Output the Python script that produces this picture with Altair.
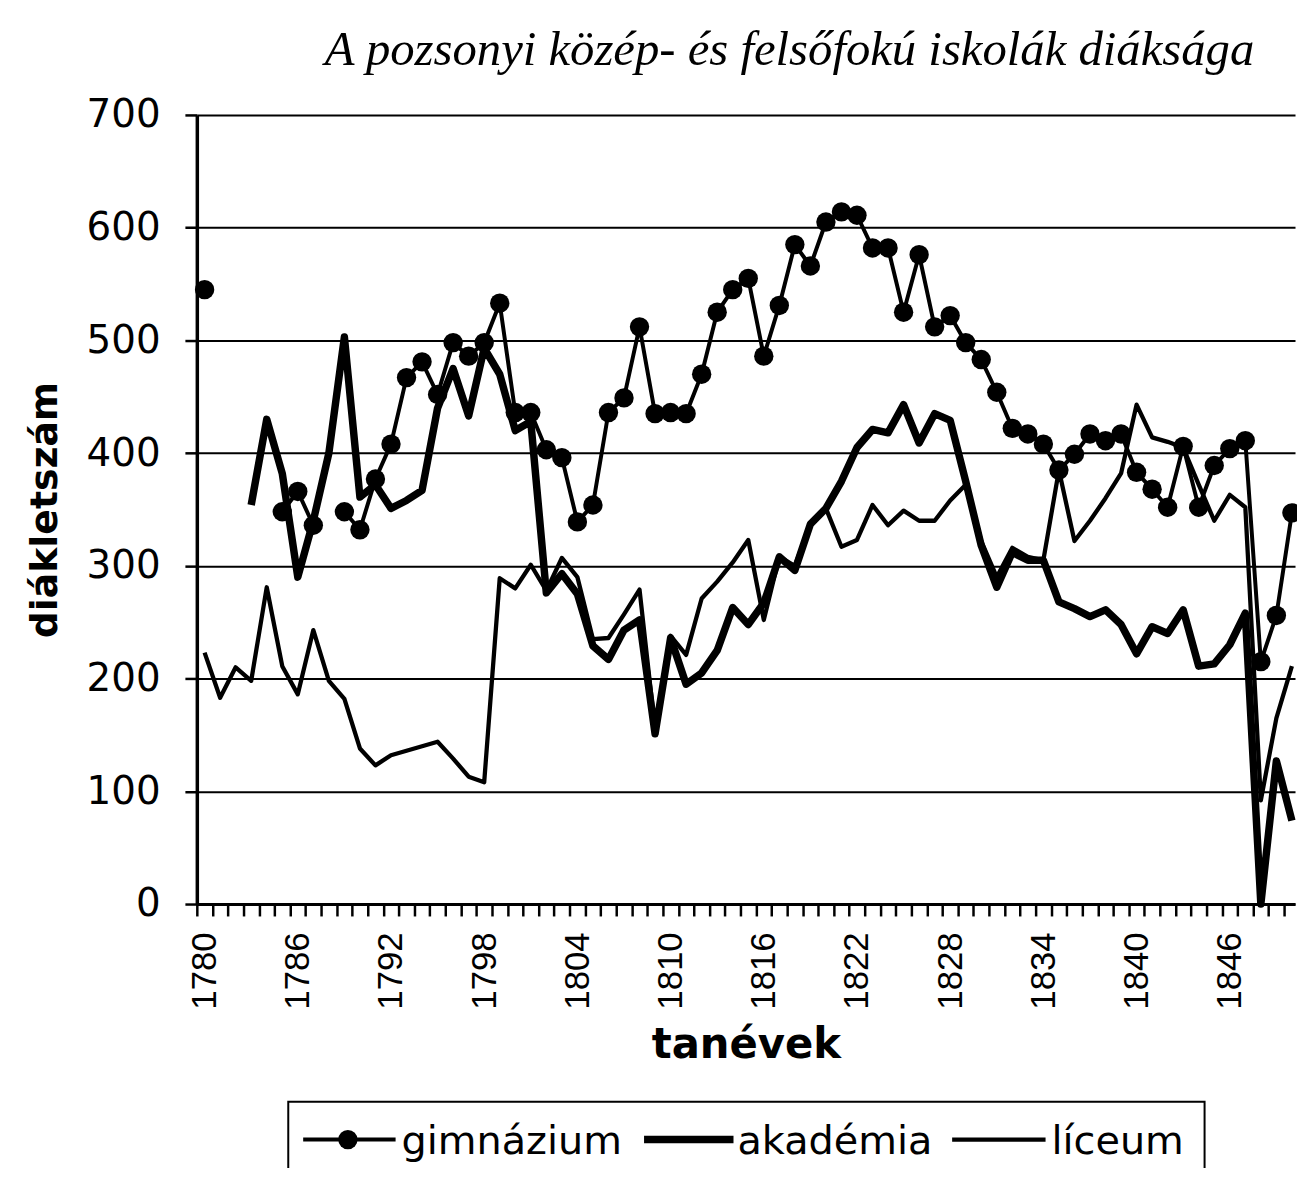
import altair as alt
import pandas as pd

TITLE = "A pozsonyi közép- és felsőfokú iskolák diáksága"
years = list(range(1780, 1851))

gimnazium = [545, None, None, None, None, 348, 366, 336, None, 348,
             332, 377, 408, 467, 481, 452, 498, 486, 498, 533,
             436, 436, 403, 396, 339, 354, 436, 449, 512, 435,
             436, 435, 470, 525, 545, 555, 486, 531, 585, 566,
             605, 614, 611, 582, 582, 525, 576, 512, 522, 498,
             483, 454, 422, 417, 408, 385, 399, 417, 411, 417,
             383, 368, 352, 406, 352, 389, 404, 411, 215, 256,
             347]

akademia = [None, None, None, 354, 430, 382, 290, 340, 400, 503,
            361, 372, 351, 358, 367, 440, 475, 433, 493, 470,
            420, 428, 276, 293, 275, 229, 217, 243, 252, 151,
            236, 195, 205, 225, 263, 248, 267, 308, 296, 337,
            351, 375, 405, 421, 418, 443, 409, 435, 429, 375,
            318, 281, 312, 305, 305, 268, 262, 255, 261, 248,
            222, 246, 240, 261, 211, 213, 230, 258, 0, 127,
            74]

liceum = [223, 183, 210, 198, 281, 211, 186, 243, 198, 182,
          138, 123, 132, 136, 140, 144, 129, 113, 108, 289,
          280, 301, 278, 307, 290, 235, 236, 257, 279, 155,
          238, 221, 271, 286, 303, 323, 252, 308, 300, 337,
          351, 317, 323, 354, 336, 349, 340, 340, 358, 372,
          322, 290, 316, 308, 305, 385, 322, 340, 360, 382,
          443, 414, 410, 405, 372, 340, 363, 352, 92, 165,
          211]

series = {"gimnázium": gimnazium, "akadémia": akademia, "líceum": liceum}

rows = []
for name, vals in series.items():
    seg = 0
    prev_none = True
    for yr, v in zip(years, vals):
        if v is None:
            prev_none = True
            continue
        if prev_none:
            seg += 1
            prev_none = False
        rows.append({"series": name, "year": yr, "value": v, "seg": f"{name}{seg}"})
df = pd.DataFrame(rows)

tick_values = [y - 0.5 for y in years]

x_enc = alt.X(
    "year:Q",
    scale=alt.Scale(domain=[1779.5, 1850.2], nice=False, zero=False),
    axis=alt.Axis(
        values=tick_values,
        labelExpr="((datum.value + 0.5 - 1780) % 6 == 0) ? format(datum.value + 0.5, 'd') : ''",
        labelAngle=270, labelFont="Liberation Sans", labelFontSize=35,
        labelColor="black", labelPadding=16, labelOffset=7.8,
        labelFlush=False, labelOverlap=False,
        tickSize=12, tickWidth=2.5, tickColor="black",
        domainColor="black", domainWidth=3, grid=False,
        title="tanévek", titleFont="DejaVu Sans", titleFontSize=42,
        titleFontWeight="bold", titleColor="black", titlePadding=16,
    ),
)
y_enc = alt.Y(
    "value:Q",
    scale=alt.Scale(domain=[0, 700], nice=False),
    axis=alt.Axis(
        values=list(range(0, 701, 100)), format="d",
        labelFont="DejaVu Sans", labelFontSize=39, labelColor="black",
        labelPadding=25, tickSize=12, tickWidth=2.5, tickColor="black",
        domainColor="black", domainWidth=3.5,
        grid=True, gridColor="black", gridWidth=2, gridOpacity=1,
        title="diákletszám", titleFont="DejaVu Sans", titleFontSize=38,
        titleFontWeight="bold", titleColor="black", titlePadding=22,
    ),
)

base = alt.Chart(df).encode(x=x_enc, y=y_enc)

lic = base.transform_filter(alt.datum.series == "líceum").mark_line(
    color="black", strokeWidth=4.3, strokeJoin="round").encode(detail="seg:N")
aka = base.transform_filter(alt.datum.series == "akadémia").mark_line(
    color="black", strokeWidth=7.5, strokeJoin="round").encode(detail="seg:N")
gim_l = base.transform_filter(alt.datum.series == "gimnázium").mark_line(
    color="black", strokeWidth=4, strokeJoin="round").encode(detail="seg:N")
gim_p = base.transform_filter(alt.datum.series == "gimnázium").mark_circle(
    color="black", size=380, opacity=1)

one = pd.DataFrame({"k": [0]})

title = alt.Chart(pd.DataFrame({"t": [TITLE]})).mark_text(
    font="Liberation Serif", fontStyle="italic", fontSize=49,
    align="right", baseline="alphabetic", color="black"
).encode(x=alt.value(1064), y=alt.value(-50), text="t:N")

leg_box = alt.Chart(one).mark_rect(fill="white", stroke="black", strokeWidth=2).encode(
    x=alt.value(92), x2=alt.value(1014), y=alt.value(993), y2=alt.value(1100))
leg_g_line = alt.Chart(one).mark_rule(color="black", strokeWidth=4).encode(
    x=alt.value(107), x2=alt.value(200), y=alt.value(1031))
leg_g_pt = alt.Chart(one).mark_circle(color="black", size=380, opacity=1).encode(
    x=alt.value(152), y=alt.value(1031))
leg_a_line = alt.Chart(one).mark_rule(color="black", strokeWidth=7.5).encode(
    x=alt.value(450), x2=alt.value(540), y=alt.value(1031))
leg_l_line = alt.Chart(one).mark_rule(color="black", strokeWidth=4.3).encode(
    x=alt.value(760), x2=alt.value(854), y=alt.value(1031))

leg_t1 = alt.Chart(pd.DataFrame({"lab": ["gimnázium"]})).mark_text(
    font="DejaVu Sans", fontSize=40, align="left", baseline="alphabetic", color="black"
).encode(x=alt.value(206), y=alt.value(1046), text="lab:N")
leg_t2 = alt.Chart(pd.DataFrame({"lab": ["akadémia"]})).mark_text(
    font="DejaVu Sans", fontSize=40, align="left", baseline="alphabetic", color="black"
).encode(x=alt.value(544), y=alt.value(1046), text="lab:N")
leg_t3 = alt.Chart(pd.DataFrame({"lab": ["líceum"]})).mark_text(
    font="DejaVu Sans", fontSize=40, align="left", baseline="alphabetic", color="black"
).encode(x=alt.value(860), y=alt.value(1046), text="lab:N")

chart = alt.layer(
    lic, aka, gim_l, gim_p, title,
    leg_box, leg_g_line, leg_g_pt, leg_a_line, leg_l_line,
    leg_t1, leg_t2, leg_t3,
).properties(
    width=1105, height=794,
    autosize=alt.AutoSizeParams(type="none"),
    padding={"left": 190, "top": 104, "right": 2, "bottom": 262},
    background="white",
).configure_view(stroke=None)

chart.save("out.html", embed_options={"renderer": "svg", "actions": False})
